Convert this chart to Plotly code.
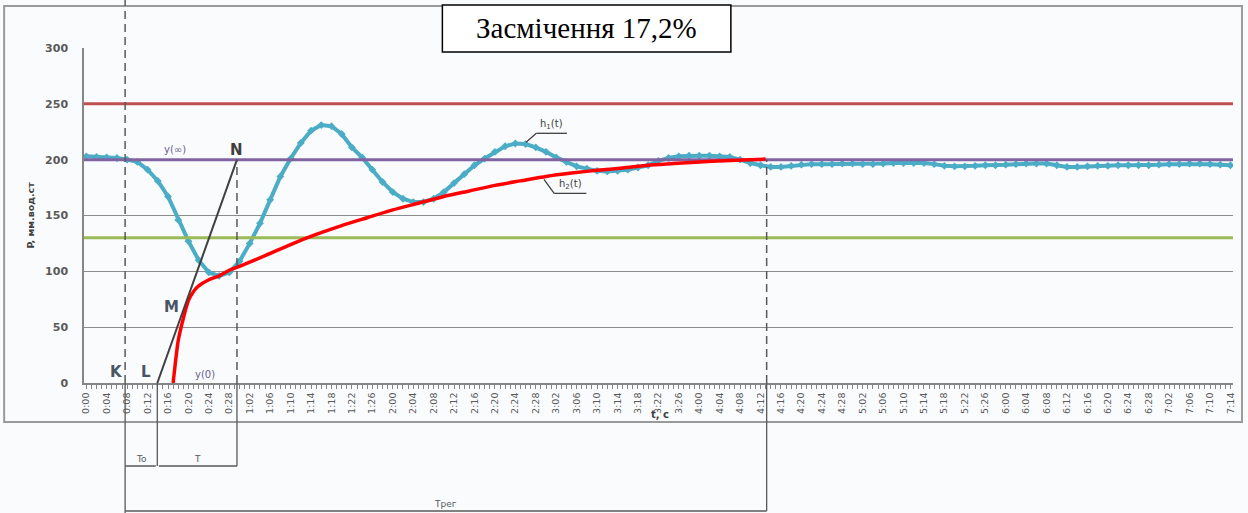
import plotly.graph_objects as go

# ---- data -----------------------------------------------------------------
# time axis labels (one label every 4 time units)
tick_labels = [
    "0:00", "0:04", "0:08", "0:12", "0:16", "0:20", "0:24", "0:28",
    "1:02", "1:06", "1:10", "1:14", "1:18", "1:22", "1:26",
    "2:00", "2:04", "2:08", "2:12", "2:16", "2:20", "2:24", "2:28",
    "3:02", "3:06", "3:10", "3:14", "3:18", "3:22", "3:26",
    "4:00", "4:04", "4:08", "4:12", "4:16", "4:20", "4:24", "4:28",
    "5:02", "5:06", "5:10", "5:14", "5:18", "5:22", "5:26",
    "6:00", "6:04", "6:08", "6:12", "6:16", "6:20", "6:24", "6:28",
    "7:02", "7:06", "7:10", "7:14",
]
tick_pos = list(range(0, 225, 4))

# h1(t): oscillating transient response
h1_t = list(range(0, 225, 2))
h1_p = [
    203, 202.5, 202, 201.5, 200, 198, 191, 181, 167, 146,
    127, 110, 99, 96, 99, 109, 125, 143, 164, 185,
    201, 215, 226, 231, 230, 223, 211, 202, 191, 180,
    171, 165, 162, 162, 165, 171, 179, 187, 195, 201,
    207, 212, 214.5, 214, 211, 207, 202, 198, 194, 192,
    190, 189.5, 190, 191, 193, 195, 199, 201.5, 203, 203.5,
    203.5, 203.5, 203, 202.5, 200, 197, 195, 193.5, 193.5, 194.5,
    195.5, 196, 196, 196, 196.5, 196.5, 196, 196, 196.5, 197,
    197, 197, 197, 196, 194.5, 194, 194, 194.5, 195, 195,
    195.5, 196, 196.5, 196.5, 196.5, 195, 193.5, 193.5, 194, 194.5,
    194.5, 195, 195, 195, 195, 195.5, 196, 196, 196.5, 196.5,
    196, 195.5, 195,
]

# h2(t): aperiodic transient response
h2_t = [17, 18, 19, 20, 21, 22, 24, 26, 28, 30, 35, 40, 45, 50, 55, 60, 65,
        70, 75, 80, 85, 90, 95, 100, 105, 110, 115, 120, 125, 130, 133]
h2_p = [0, 38, 58, 74, 82, 87, 92.5, 96, 101, 104.5, 114, 124, 133, 141, 148,
        155, 161, 167, 172, 177, 181, 185, 188, 190.5, 192.5, 195, 196.5,
        198, 199, 200, 200.5]

# reference levels
upper_level = 250
set_level = 200
lower_level = 130

# tangent through the inflection point M (from L to N)
tangent_t = [13.9, 29.5]
tangent_p = [0, 200]

# characteristic time marks
t_K = 7.6
t_L = 13.9
t_N = 29.5
t_reg = 133.2

# ---- geometry helpers -------------------------------------------------------
W, H = 1248, 513
ML, MR, MT, MB = 84, 13, 48, 130
PW, PH = W - ML - MR, H - MT - MB
X_RANGE = [-0.45, 224.5]


def px_x(px):
    return (px - ML) / PW


def px_y(py):
    return (H - MB - py) / PH


GRAY = "#868686"
DARK = "#404040"
LINE_DARK = "#595959"
BG = "#f9fbfd"
FONT = "DejaVu Sans"

fig = go.Figure()

fig.add_trace(go.Scatter(
    x=h1_t, y=h1_p, mode="lines+markers",
    line=dict(color="#4BACC6", width=4),
    marker=dict(symbol="diamond", size=6, color="#4BACC6"),
    hoverinfo="skip",
))

for level, color in [(upper_level, "#C0504D"), (set_level, "#8064A2"),
                     (lower_level, "#9BBB59")]:
    fig.add_trace(go.Scatter(
        x=X_RANGE, y=[level, level], mode="lines",
        line=dict(color=color, width=3), hoverinfo="skip",
    ))

fig.add_trace(go.Scatter(
    x=h2_t, y=h2_p, mode="lines",
    line=dict(color="#FF0000", width=3.5, shape="spline", smoothing=0.6),
    hoverinfo="skip",
))

fig.add_trace(go.Scatter(
    x=tangent_t, y=tangent_p, mode="lines",
    line=dict(color=DARK, width=2), hoverinfo="skip",
))

shapes = []
dash = "8px,5px"

# vertical dashed markers inside/above the plot
shapes.append(dict(type="line", xref="x", yref="paper", x0=t_K, x1=t_K,
                   y0=0, y1=px_y(0), line=dict(color=LINE_DARK, width=1.5, dash=dash)))
for t in (t_N, t_reg):
    shapes.append(dict(type="line", xref="x", yref="y", x0=t, x1=t,
                       y0=0, y1=set_level,
                       line=dict(color=LINE_DARK, width=1.5, dash=dash)))

# solid extensions below the axis and interval brackets
y_small = px_y(466)
y_big = px_y(511)
for t, yb in [(t_K, px_y(513)), (t_L, y_small), (t_N, y_small), (t_reg, y_big)]:
    shapes.append(dict(type="line", xref="x", yref="paper", x0=t, x1=t,
                       y0=0, y1=yb, line=dict(color=LINE_DARK, width=1.3)))
for a, b, yy in [(t_K, t_L - 0.3, y_small), (t_L + 0.3, t_N, y_small),
                 (t_K, t_reg, y_big)]:
    shapes.append(dict(type="line", xref="x", yref="paper", x0=a, x1=b,
                       y0=yy, y1=yy, line=dict(color=LINE_DARK, width=1.5)))

# leader lines for curve labels
for pts in ([(86.1, 215.5), (88.1, 223.6), (94.1, 223.6)],
            [(89.6, 182.4), (91.6, 169.9), (97.9, 169.9)]):
    for (xa, ya), (xb, yb) in zip(pts[:-1], pts[1:]):
        shapes.append(dict(type="line", xref="x", yref="y", x0=xa, y0=ya,
                           x1=xb, y1=yb, line=dict(color=DARK, width=1.3)))

# outer chart frame
shapes.append(dict(type="rect", xref="paper", yref="paper", layer="below",
                   x0=px_x(4), x1=px_x(1244), y0=px_y(422), y1=px_y(6),
                   line=dict(color="#9a9a9a", width=2)))
# title box
shapes.append(dict(type="rect", xref="paper", yref="paper",
                   x0=px_x(443), x1=px_x(732), y0=px_y(52), y1=px_y(5),
                   fillcolor="white", line=dict(color="black", width=1.5)))

annotations = [
    dict(text="Засмічення 17,2%", xref="paper", yref="paper",
         x=px_x(587.5), y=px_y(28.5), xanchor="center", yanchor="middle",
         showarrow=False,
         font=dict(family="Liberation Serif", size=29, color="black")),
    dict(text="P, мм.вод.ст", xref="paper", yref="paper", x=px_x(30), y=0.5,
         xanchor="center", yanchor="middle", textangle=-90, showarrow=False,
         font=dict(family=FONT, size=9.5, color=DARK, weight="bold")),
    dict(text="t, c", xref="paper", yref="paper", x=px_x(661), y=px_y(414),
         xanchor="center", yanchor="middle", showarrow=False,
         font=dict(family=FONT, size=10, color=DARK, weight="bold")),
    dict(text="h<sub>1</sub>(t)", xref="x", yref="y", x=91.1, y=223.6,
         yanchor="bottom", showarrow=False,
         font=dict(family=FONT, size=10, color=DARK)),
    dict(text="h<sub>2</sub>(t)", xref="x", yref="y", x=94.7, y=169.9,
         yanchor="bottom", showarrow=False,
         font=dict(family=FONT, size=10, color=DARK)),
    dict(text="y(∞)", xref="x", yref="y", x=17.4, y=209, showarrow=False,
         font=dict(family=FONT, size=10, color="#6a5d8c")),
    dict(text="y(0)", xref="x", yref="y", x=23.2, y=7.7, showarrow=False,
         font=dict(family=FONT, size=10, color="#6a5d8c")),
    dict(text="N", xref="x", yref="y", x=t_N, y=208.5, showarrow=False,
         font=dict(family=FONT, size=15, color=DARK, weight="bold")),
    dict(text="M", xref="x", yref="y", x=16.6, y=68.5, showarrow=False,
         font=dict(family=FONT, size=15, color="#4a5563", weight="bold")),
    dict(text="K", xref="x", yref="y", x=5.9, y=9.6, showarrow=False,
         font=dict(family=FONT, size=15, color="#4a5563", weight="bold")),
    dict(text="L", xref="x", yref="y", x=11.7, y=9.6, showarrow=False,
         font=dict(family=FONT, size=15, color="#4a5563", weight="bold")),
    dict(text="To", xref="x", yref="paper", x=(t_K + t_L) / 2, y=y_small,
         yanchor="bottom", showarrow=False,
         font=dict(family=FONT, size=9, color=LINE_DARK)),
    dict(text="T", xref="x", yref="paper", x=(t_L + t_N) / 2, y=y_small,
         yanchor="bottom", showarrow=False,
         font=dict(family=FONT, size=9, color=LINE_DARK)),
    dict(text="Трег", xref="x", yref="paper", x=(t_K + t_reg) / 2, y=y_big,
         yanchor="bottom", showarrow=False,
         font=dict(family=FONT, size=9, color=LINE_DARK)),
]

fig.update_layout(
    width=W, height=H,
    margin=dict(l=ML, r=MR, t=MT, b=MB),
    paper_bgcolor=BG, plot_bgcolor=BG,
    showlegend=False,
    shapes=shapes,
    annotations=annotations,
    xaxis=dict(
        range=X_RANGE, tickmode="array", tickvals=tick_pos, ticktext=tick_labels,
        tickangle=-90, tickfont=dict(family=FONT, size=9.5, color=LINE_DARK),
        showgrid=False, zeroline=False, showline=True, linecolor=GRAY, linewidth=1.5,
        ticks="outside", ticklen=4, tickcolor=GRAY, tickwidth=1,
        minor=dict(dtick=1, tick0=0, ticks="outside", ticklen=4,
                   tickcolor=GRAY, tickwidth=1, showgrid=False),
    ),
    yaxis=dict(
        range=[0, 300], dtick=50, tick0=0,
        showgrid=True, gridcolor="#8c8c8c", gridwidth=1,
        zeroline=False, showline=True, linecolor=GRAY, linewidth=1.5,
        ticks="", ticklabelstandoff=12,
        tickfont=dict(family=FONT, size=11, color=LINE_DARK, weight="bold"),
    ),
)

fig.write_html("out.html")
